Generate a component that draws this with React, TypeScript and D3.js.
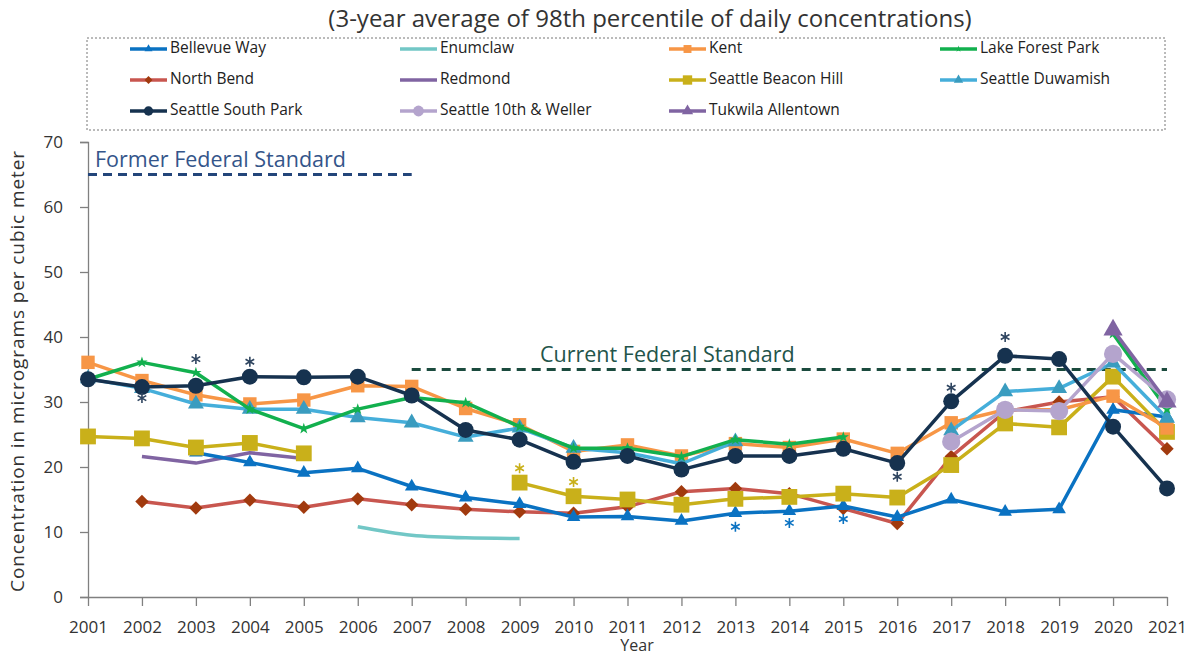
import React, { useRef, useEffect } from 'react';
import * as d3 from 'd3';

const years = [2001, 2002, 2003, 2004, 2005, 2006, 2007, 2008, 2009, 2010, 2011,
  2012, 2013, 2014, 2015, 2016, 2017, 2018, 2019, 2020, 2021];

const yTicks = [0, 10, 20, 30, 40, 50, 60, 70];

// values in micrograms per cubic meter, null = no data that year
const bellevueWay = [null, null, 22.2, 20.7, 19.1, 19.8, 17.0, 15.3, 14.3, 12.3, 12.4, 11.7, 12.9, 13.2, 14.0, 12.3, 15.0, 13.1, 13.5, 28.8, 27.7];
const enumclaw = [null, null, null, null, null, 10.8, 9.5, 9.1, 9.0, null, null, null, null, null, null, null, null, null, null, null, null];
const kent = [36.1, 33.3, 31.1, 29.7, 30.3, 32.5, 32.4, 29.0, 26.5, 22.4, 23.4, 21.7, 23.6, 23.0, 24.3, 22.1, 26.8, 28.8, 28.8, 30.9, 26.0];
const lakeForestPark = [33.5, 36.1, 34.5, 28.9, 25.9, 28.9, 30.7, 29.9, 26.2, 22.9, 22.9, 21.6, 24.2, 23.5, 24.6, null, null, null, null, 40.5, 28.9];
const northBend = [null, 14.7, 13.7, 14.9, 13.8, 15.1, 14.2, 13.5, 13.1, 12.9, 13.9, 16.2, 16.7, 15.9, 13.6, 11.3, 21.6, 28.5, 30.0, 30.8, 22.8];
const redmond = [null, 21.6, 20.6, 22.2, 21.3, null, null, null, null, null, null, null, null, null, null, null, null, null, null, null, null];
const beaconHill = [24.7, 24.4, 23.0, 23.7, 22.1, null, null, null, 17.6, 15.5, 15.0, 14.2, 15.1, 15.4, 15.9, 15.3, 20.3, 26.7, 26.1, 33.9, 25.4];
const duwamish = [33.6, 32.1, 29.7, 28.9, 28.9, 27.6, 26.8, 24.6, 26.0, 22.9, 22.2, 20.5, 23.9, null, null, null, 25.6, 31.6, 32.1, 36.0, 27.5];
const southPark = [33.5, 32.3, 32.5, 33.9, 33.8, 33.9, 31.0, 25.7, 24.2, 20.8, 21.7, 19.6, 21.7, 21.7, 22.8, 20.6, 30.1, 37.1, 36.6, 26.2, 16.7];
const tenthWeller = [null, null, null, null, null, null, null, null, null, null, null, null, null, null, null, null, 23.9, 28.8, 28.6, 37.4, 30.4];
const tukwila = [null, null, null, null, null, null, null, null, null, null, null, null, null, null, null, null, null, null, null, 41.1, 30.0];

// asterisk notes: year and height (in data units) where the * sits
const noteYears = [2002, 2003, 2004, 2016, 2017, 2018, 2009, 2010, 2013, 2014, 2015];
const noteValues = [30.6, 36.6, 36.2, 18.5, 32.2, 40.0, 19.8, 17.7, 10.8, 11.4, 12.0];
const noteSeries = ['Seattle South Park', 'Seattle South Park', 'Seattle South Park', 'Seattle South Park',
  'Seattle South Park', 'Seattle South Park', 'Seattle Beacon Hill', 'Seattle Beacon Hill',
  'Bellevue Way', 'Bellevue Way', 'Bellevue Way'];

const formerStandard = 65;
const currentStandard = 35;

const FONT = "'Open Sans', sans-serif";

// draw order matters a bit: last one ends on top
const series = [
  { name: 'Enumclaw', values: enumclaw, color: '#72C7C6', marker: null, size: 0, curve: true },
  { name: 'Redmond', values: redmond, color: '#8064A2', marker: null, size: 0 },
  { name: 'North Bend', values: northBend, color: '#C8564F', markerColor: '#A13A0E', marker: 'diamond', size: 90 },
  { name: 'Bellevue Way', values: bellevueWay, color: '#0A72C2', marker: d3.symbolTriangle, size: 80 },
  { name: 'Seattle Beacon Hill', values: beaconHill, color: '#C9B01A', marker: d3.symbolSquare, size: 250 },
  { name: 'Kent', values: kent, color: '#F79646', marker: d3.symbolSquare, size: 180 },
  { name: 'Seattle Duwamish', values: duwamish, color: '#45AEDA', markerColor: '#3A9CBF', marker: d3.symbolTriangle, size: 110 },
  { name: 'Lake Forest Park', values: lakeForestPark, color: '#12B04E', marker: d3.symbolStar, size: 40 },
  { name: 'Seattle 10th & Weller', values: tenthWeller, color: '#B4A4CD', marker: d3.symbolCircle, size: 260 },
  { name: 'Tukwila Allentown', values: tukwila, color: '#8064A2', marker: d3.symbolTriangle, size: 160 },
  { name: 'Seattle South Park', values: southPark, color: '#16324F', marker: d3.symbolCircle, size: 200 },
];

const legendOrder = ['Bellevue Way', 'Enumclaw', 'Kent', 'Lake Forest Park',
  'North Bend', 'Redmond', 'Seattle Beacon Hill', 'Seattle Duwamish',
  'Seattle South Park', 'Seattle 10th & Weller', 'Tukwila Allentown'];

function markerPath(s, scale = 1) {
  if (s.marker === 'diamond') {
    return d3.symbol().type(d3.symbolSquare).size(s.size * scale)();
  }
  return d3.symbol().type(s.marker).size(s.size * scale)();
}

function App() {
  const svgRef = useRef(null);

  useEffect(() => {
    const width = 1189;
    const height = 652;
    const left = 88, right = 1167, top = 142, bottom = 597;

    const svg = d3.select(svgRef.current);
    svg.selectAll('*').remove();
    svg.attr('width', width).attr('height', height);

    const x = d3.scaleLinear().domain([2001, 2021]).range([left, right]);
    const y = d3.scaleLinear().domain([0, 70]).range([bottom, top]);

    // title
    svg.append('text')
      .attr('x', 650).attr('y', 27)
      .attr('text-anchor', 'middle')
      .style('font-family', FONT).style('font-size', '24px')
      .attr('fill', '#333')
      .text('(3-year average of 98th percentile of daily concentrations)');

    // legend box
    svg.append('rect')
      .attr('x', 87).attr('y', 38).attr('width', 1078).attr('height', 92)
      .attr('fill', 'none').attr('stroke', '#777').attr('stroke-width', 1)
      .attr('stroke-dasharray', '2,2');

    const colX = [130, 400, 669, 940];
    const rowY = [48, 79, 110];
    legendOrder.forEach((name, i) => {
      const s = series.find(d => d.name === name);
      const g = svg.append('g')
        .attr('transform', `translate(${colX[i % 4]},${rowY[Math.floor(i / 4)]})`);
      g.append('line').attr('x1', 0).attr('x2', 37).attr('y1', 1).attr('y2', 1)
        .attr('stroke', s.color).attr('stroke-width', 3.5);
      if (s.marker) {
        g.append('path').attr('d', markerPath(s, 0.35))
          .attr('transform', `translate(18.5,1)${s.marker === 'diamond' ? ' rotate(45)' : ''}`)
          .attr('fill', s.markerColor || s.color);
      }
      g.append('text').attr('x', 40).attr('y', 0).attr('dy', '0.35em')
        .style('font-family', FONT).style('font-size', '15.5px')
        .attr('fill', '#222').text(name);
    });

    // axes
    const yAxis = svg.append('g')
      .attr('transform', `translate(${left},0)`)
      .call(d3.axisLeft(y).tickValues(yTicks).tickSize(8).tickPadding(17));
    yAxis.select('.domain').attr('stroke', '#808080').attr('stroke-width', 1.3);
    yAxis.selectAll('.tick line').attr('stroke', '#808080').attr('stroke-width', 1.3);
    yAxis.selectAll('.tick text')
      .style('font-family', FONT).style('font-size', '17px').attr('fill', '#333');

    const xAxis = svg.append('g')
      .attr('transform', `translate(0,${bottom})`)
      .call(d3.axisBottom(x).tickValues(years).tickFormat(d3.format('d'))
        .tickSize(9).tickSizeOuter(0).tickPadding(15));
    xAxis.select('.domain').attr('stroke', '#808080').attr('stroke-width', 1.3);
    xAxis.selectAll('.tick line').attr('stroke', '#808080').attr('stroke-width', 1.3);
    xAxis.selectAll('.tick text')
      .style('font-family', FONT).style('font-size', '17px').attr('fill', '#333');

    svg.append('text')
      .attr('x', 637).attr('y', 651)
      .attr('text-anchor', 'middle')
      .style('font-family', FONT).style('font-size', '16px').attr('fill', '#333')
      .text('Year');

    svg.append('text')
      .attr('transform', `translate(24,371) rotate(-90)`)
      .attr('text-anchor', 'middle')
      .style('font-family', FONT).style('font-size', '19px').attr('fill', '#333')
      .style('letter-spacing', '0.9px')
      .text('Concentration in micrograms per cubic meter');

    // standards
    svg.append('line')
      .attr('x1', x(2001)).attr('x2', x(2007))
      .attr('y1', y(formerStandard)).attr('y2', y(formerStandard))
      .attr('stroke', '#23457A').attr('stroke-width', 3).attr('stroke-dasharray', '9,6');
    svg.append('text')
      .attr('x', 95).attr('y', y(formerStandard) - 8)
      .style('font-family', FONT).style('font-size', '21.5px').attr('fill', '#34558A')
      .text('Former Federal Standard');

    svg.append('line')
      .attr('x1', x(2007)).attr('x2', x(2021))
      .attr('y1', y(currentStandard)).attr('y2', y(currentStandard))
      .attr('stroke', '#1B4B3E').attr('stroke-width', 3).attr('stroke-dasharray', '9,6');
    svg.append('text')
      .attr('x', 540).attr('y', y(currentStandard) - 8)
      .style('font-family', FONT).style('font-size', '21.5px').attr('fill', '#23544A')
      .text('Current Federal Standard');

    // series
    series.forEach(s => {
      const pts = s.values.map((v, i) => ({ year: years[i], v }));
      const line = d3.line()
        .defined(d => d.v != null)
        .x(d => x(d.year))
        .y(d => y(d.v))
        .curve(s.curve ? d3.curveMonotoneX : d3.curveLinear);

      svg.append('path')
        .datum(pts)
        .attr('d', line)
        .attr('fill', 'none')
        .attr('stroke', s.color)
        .attr('stroke-width', 3.5)
        .attr('stroke-linejoin', 'round');

      if (s.marker) {
        svg.append('g').selectAll('path')
          .data(pts.filter(d => d.v != null))
          .join('path')
          .attr('d', markerPath(s))
          .attr('transform', d => `translate(${x(d.year)},${y(d.v)})${s.marker === 'diamond' ? ' rotate(45)' : ''}`)
          .attr('fill', s.markerColor || s.color);
      }
    });

    // asterisks
    svg.append('g').selectAll('path')
      .data(noteYears.map((yr, i) => ({ yr, v: noteValues[i], name: noteSeries[i] })))
      .join('path')
      .attr('d', d3.symbol().type(d3.symbolAsterisk).size(70)())
      .attr('transform', d => `translate(${x(d.yr)},${y(d.v)})`)
      .attr('fill', 'none')
      .attr('stroke', d => {
        const s = series.find(q => q.name === d.name);
        return s.name === 'Seattle South Park' ? '#2F4560' : s.color;
      })
      .attr('stroke-width', 1.6);
  }, []);

  return (
    <svg ref={svgRef} style={{ position: 'absolute', left: 0, top: 0, background: '#fff' }}></svg>
  );
}

export default App;
